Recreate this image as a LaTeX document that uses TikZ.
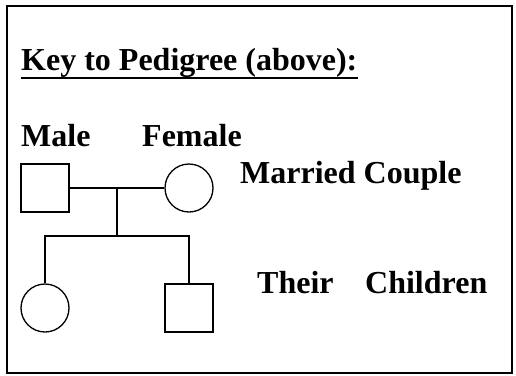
\documentclass[tikz,border=0pt]{standalone}
\usepackage{fontspec}
\setmainfont{Liberation Serif}
\begin{document}
\begin{tikzpicture}[x=1pt,y=-1pt,
  lbl/.style={anchor=base west,inner sep=0pt,font=\fontsize{32}{38}\selectfont\bfseries},
  malebox/.style={draw,line width=1.3pt,rectangle,minimum size=48pt,inner sep=0pt},
  femalebox/.style={draw,line width=1.3pt,circle,minimum size=48pt,inner sep=0pt},
  link/.style={line width=1.3pt}]
\useasboundingbox (0,0) rectangle (516,375);
\draw[line width=2pt] (6.5,5.5) rectangle (512,372.5);
\node[lbl] (title) at (21,70) {Key to Pedigree (above):};
\draw[line width=2.6pt] (title.base west) ++(0,8) -- ++(337,0);
\node[lbl] (male) at (21,146) {Male};
\node[lbl] (female) at (142,146) {Female};
\node[lbl] (married) at (240,183) {Married Couple};
\node[lbl] (their) at (257,293) {Their};
\node[lbl] (children) at (365,293) {Children};
\node[malebox] (m) at (45,188) {};
\node[femalebox] (f) at (189,188) {};
\node[femalebox] (c1) at (45,308) {};
\node[malebox] (c2) at (189,308) {};
\coordinate (mid) at (117,188);
\coordinate (sib) at (117,236);
\coordinate (sl) at (45,236);
\coordinate (sr) at (189,236);
\draw[link] (m.east) -- (f.west);
\draw[link] (mid) -- (sib);
\draw[link] (c1.north) -- (sl) -- (sr) -- (c2.north);
\end{tikzpicture}
\end{document}
